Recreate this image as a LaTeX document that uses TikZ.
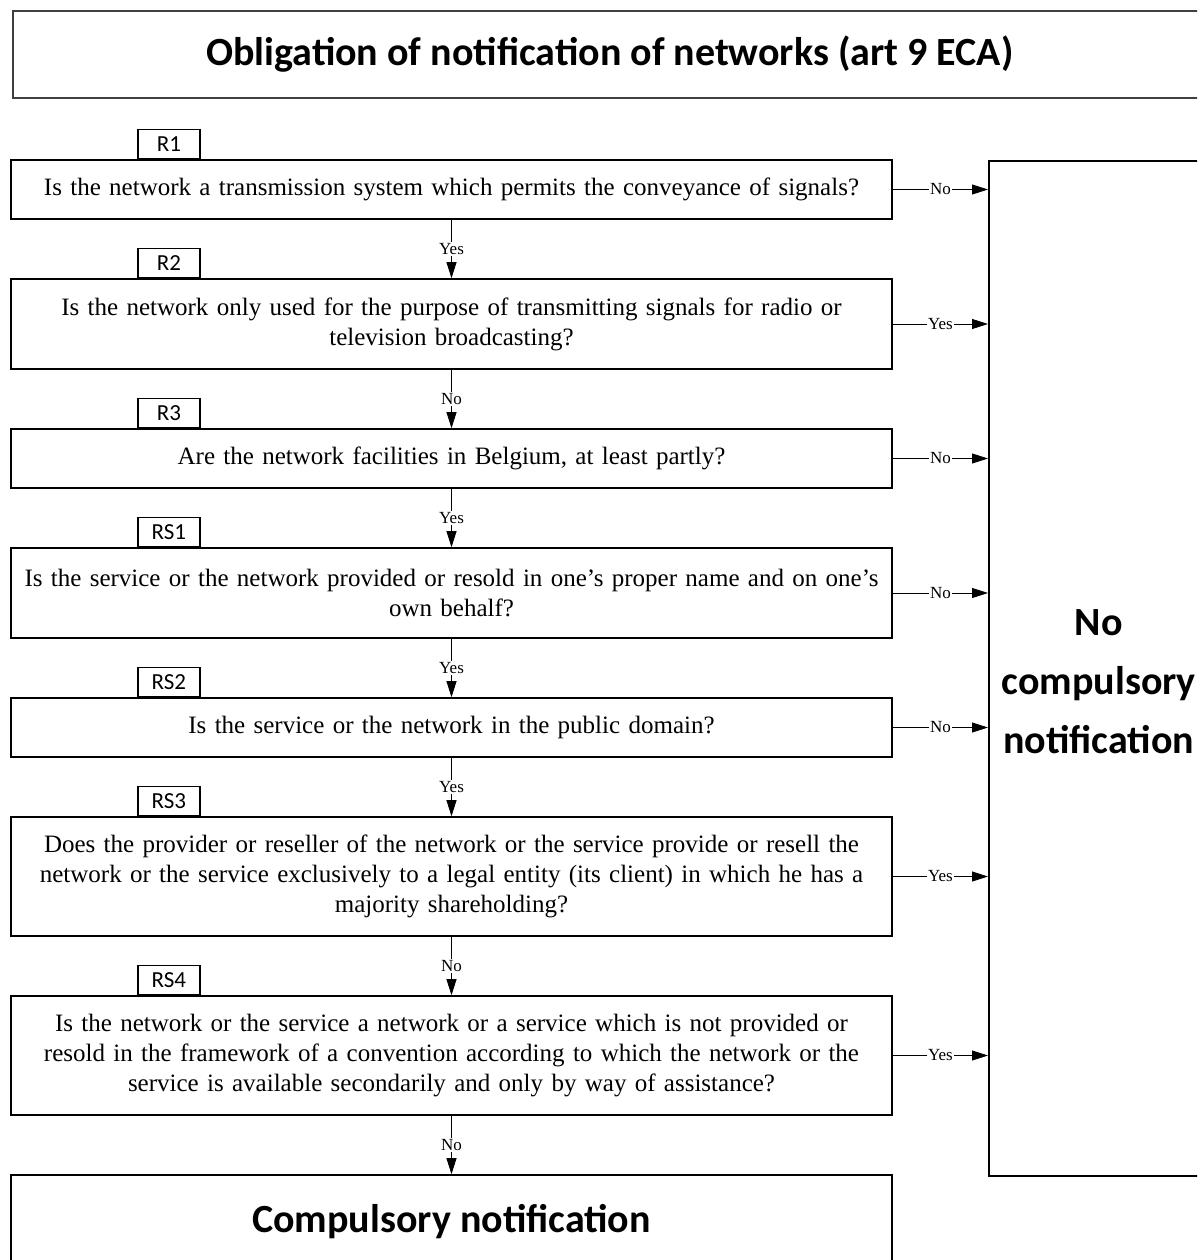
\documentclass[tikz,border=0pt]{standalone}
\usepackage{fontspec}
\setmainfont{Liberation Serif}
\newfontfamily\calibri{Carlito}
\usetikzlibrary{positioning, arrows.meta}

\tikzset{
  question/.style={draw, line width=1.6pt, minimum width=881pt, text width=876pt,
    align=center, inner sep=0pt, font=\fontsize{25}{30}\selectfont},
  oneline/.style={question, minimum height=59pt},
  twoline/.style={question, minimum height=90pt},
  threeline/.style={question, minimum height=119pt},
  tagbox/.style={draw, line width=1.3pt, minimum width=62pt, minimum height=29pt,
    inner sep=0pt, anchor=south west, font=\calibri\fontsize{23}{26}\selectfont},
  answer/.style={fill=white, inner sep=1pt, font=\fontsize{17}{18}\selectfont},
  flow/.style={draw, line width=0.8pt, -{Triangle[length=16pt,width=10pt]}},
  bigbox/.style={draw, line width=1.6pt, inner sep=0pt, align=center,
    font=\calibri\bfseries\fontsize{40}{48}\selectfont},
}

\begin{document}
\begin{tikzpicture}[x=1pt, y=1pt, node distance=58.4pt]
  \useasboundingbox (0,0) rectangle (1197,-1260);
  \clip (0,0) rectangle (1197,-1260);

  \node[bigbox, draw=black!75, anchor=north west, minimum width=1194pt, minimum height=87pt]
    (title) at (12,-10) {Obligation of notification of networks (art 9 ECA)};

  % questions
  \node[oneline] (r1) at (451.5,-189.5)
    {Is the network a transmission system which permits the conveyance of signals?};
  \node[twoline] (r2) [below=of r1]
    {Is the network only used for the purpose of transmitting signals for radio or\\
     television broadcasting?};
  \node[oneline] (r3) [below=of r2]
    {Are the network facilities in Belgium, at least partly?};
  \node[twoline] (rs1) [below=of r3]
    {Is the service or the network provided or resold in one’s proper name and on one’s\\
     own behalf?};
  \node[oneline] (rs2) [below=of rs1]
    {Is the service or the network in the public domain?};
  \node[threeline] (rs3) [below=of rs2]
    {Does the provider or reseller of the network or the service provide or resell the\\
     network or the service exclusively to a legal entity (its client) in which he has a\\
     majority shareholding?};
  \node[threeline] (rs4) [below=of rs3]
    {Is the network or the service a network or a service which is not provided or\\
     resold in the framework of a convention according to which the network or the\\
     service is available secondarily and only by way of assistance?};

  % results
  \node[bigbox, minimum width=881pt, minimum height=94pt, below=of rs4] (comp)
    {Compulsory notification};
  \node[bigbox, anchor=north west, minimum width=220pt, minimum height=1015pt] (nocomp)
    at (988,-160) {};
  \node[align=center, font=\calibri\bfseries\fontsize{40}{59}\selectfont] (nocomptext)
    at ([yshift=-13pt]nocomp.center) {No\\compulsory\\notification};

  % tags
  \node[tagbox] (tr1)  at ([xshift=127pt]r1.north west)  {R1};
  \node[tagbox] (tr2)  at ([xshift=127pt]r2.north west)  {R2};
  \node[tagbox] (tr3)  at ([xshift=127pt]r3.north west)  {R3};
  \node[tagbox] (trs1) at ([xshift=127pt]rs1.north west) {RS1};
  \node[tagbox] (trs2) at ([xshift=127pt]rs2.north west) {RS2};
  \node[tagbox] (trs3) at ([xshift=127pt]rs3.north west) {RS3};
  \node[tagbox] (trs4) at ([xshift=127pt]rs4.north west) {RS4};

  % down
  \draw[flow] (r1)  -- node[answer] {Yes} (r2);
  \draw[flow] (r2)  -- node[answer] {No}  (r3);
  \draw[flow] (r3)  -- node[answer] {Yes} (rs1);
  \draw[flow] (rs1) -- node[answer] {Yes} (rs2);
  \draw[flow] (rs2) -- node[answer] {Yes} (rs3);
  \draw[flow] (rs3) -- node[answer] {No}  (rs4);
  \draw[flow] (rs4) -- node[answer] {No}  (comp);

  % right
  \draw[flow] (r1.east)  -- node[answer] {No}  (r1.east -| nocomp.west);
  \draw[flow] (r2.east)  -- node[answer] {Yes} (r2.east -| nocomp.west);
  \draw[flow] (r3.east)  -- node[answer] {No}  (r3.east -| nocomp.west);
  \draw[flow] (rs1.east) -- node[answer] {No}  (rs1.east -| nocomp.west);
  \draw[flow] (rs2.east) -- node[answer] {No}  (rs2.east -| nocomp.west);
  \draw[flow] (rs3.east) -- node[answer] {Yes} (rs3.east -| nocomp.west);
  \draw[flow] (rs4.east) -- node[answer] {Yes} (rs4.east -| nocomp.west);
\end{tikzpicture}
\end{document}
